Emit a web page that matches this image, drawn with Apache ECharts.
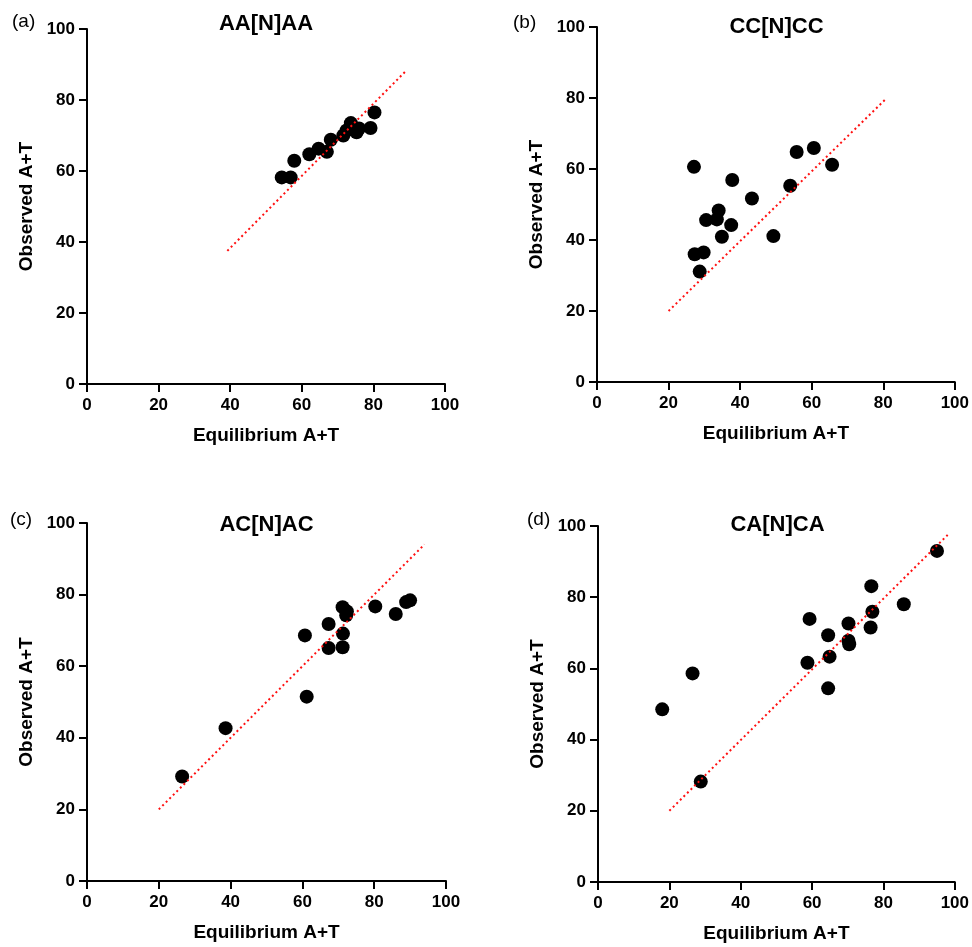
<!DOCTYPE html>
<html>
<head>
<meta charset="utf-8">
<title>Observed vs Equilibrium A+T</title>
<script src="https://cdn.jsdelivr.net/npm/echarts@6/dist/echarts.min.js"></script>
<style>
  html, body { margin: 0; padding: 0; background: #fff; }
  #chart { width: 972px; height: 947px; }
</style>
</head>
<body>
<div id="chart"></div>
<script>
// Panel titles and letters
const panelTitles = ['AA[N]AA', 'CC[N]CC', 'AC[N]AC', 'CA[N]CA'];
const panelLetters = ['(a)', '(b)', '(c)', '(d)'];
const axisTicks = [0, 20, 40, 60, 80, 100];

// (a) AA[N]AA
const aaEquilibrium = [54.4, 56.9, 57.9, 62.1, 64.7, 67.0, 68.1, 71.6, 72.5, 73.7, 75.3, 76.0, 79.2, 80.3];
const aaObserved    = [58.2, 58.2, 62.9, 64.7, 66.3, 65.4, 68.8, 70.0, 71.4, 73.5, 70.9, 72.0, 72.1, 76.5];
const aaLineX = [39.2, 89.2];
const aaLineY = [37.5, 88.3];

// (b) CC[N]CC
const ccEquilibrium = [27.1, 37.8, 43.3, 49.3, 54.0, 55.8, 60.6, 65.7, 30.5, 34.0, 33.5, 37.5, 34.9, 27.3, 29.8, 28.7];
const ccObserved    = [60.6, 56.9, 51.7, 41.1, 55.3, 64.8, 65.9, 61.2, 45.6, 48.3, 45.8, 44.2, 40.9, 36.0, 36.5, 31.1];
const ccLineX = [20, 81];
const ccLineY = [20, 80];

// (c) AC[N]AC
const acEquilibrium = [26.5, 38.6, 60.7, 61.2, 67.3, 67.3, 71.2, 72.4, 72.2, 71.3, 71.2, 80.3, 86.0, 88.9, 90.0];
const acObserved    = [29.2, 42.7, 68.6, 51.5, 71.8, 65.1, 76.5, 75.3, 74.2, 69.1, 65.3, 76.7, 74.6, 77.9, 78.4];
const acLineX = [20, 94];
const acLineY = [20, 94];

// (d) CA[N]CA
const caEquilibrium = [18.0, 26.5, 28.8, 58.7, 59.3, 64.5, 64.9, 64.5, 70.2, 70.2, 70.4, 76.6, 76.9, 76.4, 85.7, 95.0];
const caObserved    = [48.5, 58.6, 28.2, 61.6, 73.9, 69.3, 63.3, 54.4, 72.6, 67.8, 66.8, 83.1, 75.9, 71.5, 78.0, 93.0];
const caLineX = [20, 98];
const caLineY = [20, 97.5];

const panels = [
  { eq: aaEquilibrium, obs: aaObserved, lx: aaLineX, ly: aaLineY },
  { eq: ccEquilibrium, obs: ccObserved, lx: ccLineX, ly: ccLineY },
  { eq: acEquilibrium, obs: acObserved, lx: acLineX, ly: acLineY },
  { eq: caEquilibrium, obs: caObserved, lx: caLineX, ly: caLineY }
];

// Plot rectangles (left, top, width, height) for the 2x2 layout
const grids = [
  { left: 87,  top: 29,  width: 358, height: 355 },
  { left: 597, top: 27,  width: 359, height: 355 },
  { left: 87,  top: 523, width: 359, height: 358 },
  { left: 598, top: 526, width: 359, height: 356 }
];
const titleY = [22, 25, 523, 523];
const letterPos = [[12, 22], [513, 23], [10, 520], [527, 520]];

const FONT = '"Liberation Sans", Arial, Helvetica, sans-serif';

function zip(xs, ys) { return xs.map((x, i) => [x, ys[i]]); }

const axisCommon = {
  type: 'value',
  min: axisTicks[0],
  max: axisTicks[axisTicks.length - 1],
  interval: axisTicks[1] - axisTicks[0],
  splitLine: { show: false },
  axisLine: { show: true, onZero: false, lineStyle: { color: '#000', width: 2 } },
  axisTick: { show: true, inside: false, length: 8, lineStyle: { color: '#000', width: 2 } },
  nameLocation: 'middle',
  nameTextStyle: { fontFamily: FONT, fontWeight: 'bold', fontSize: 19, color: '#000' }
};

const option = {
  animation: false,
  backgroundColor: '#fff',
  title: grids.map((g, i) => ({
    text: panelTitles[i],
    left: g.left + g.width / 2,
    top: titleY[i] - 9,
    textAlign: 'center',
    padding: 0,
    textStyle: { fontFamily: FONT, fontWeight: 'bold', fontSize: 22, color: '#000' }
  })),
  graphic: letterPos.map((p, i) => ({
    type: 'text',
    left: p[0],
    top: p[1] - 10,
    style: { text: panelLetters[i], font: '19px ' + FONT, fill: '#000' }
  })),
  grid: grids.map(g => Object.assign({ containLabel: false }, g)),
  xAxis: grids.map((g, i) => Object.assign({}, axisCommon, {
    gridIndex: i,
    name: 'Equilibrium A+T',
    nameGap: 42,
    axisLabel: { margin: 13, fontFamily: FONT, fontWeight: 'bold', fontSize: 17, color: '#000' }
  })),
  yAxis: grids.map((g, i) => Object.assign({}, axisCommon, {
    gridIndex: i,
    name: 'Observed A+T',
    nameGap: 51,
    axisLabel: { margin: 12, fontFamily: FONT, fontWeight: 'bold', fontSize: 17, color: '#000' }
  })),
  series: panels.flatMap((p, i) => [
    {
      type: 'line',
      xAxisIndex: i,
      yAxisIndex: i,
      data: zip(p.lx, p.ly),
      symbol: 'none',
      silent: true,
      lineStyle: { color: '#ff1010', width: 2, type: [2, 3] },
      z: 3
    },
    {
      type: 'scatter',
      xAxisIndex: i,
      yAxisIndex: i,
      data: zip(p.eq, p.obs),
      symbol: 'circle',
      symbolSize: 14,
      itemStyle: { color: '#000', opacity: 1 },
      z: 2
    }
  ])
};

const chart = echarts.init(document.getElementById('chart'), null, { renderer: 'canvas' });
chart.setOption(option);
</script>
</body>
</html>
